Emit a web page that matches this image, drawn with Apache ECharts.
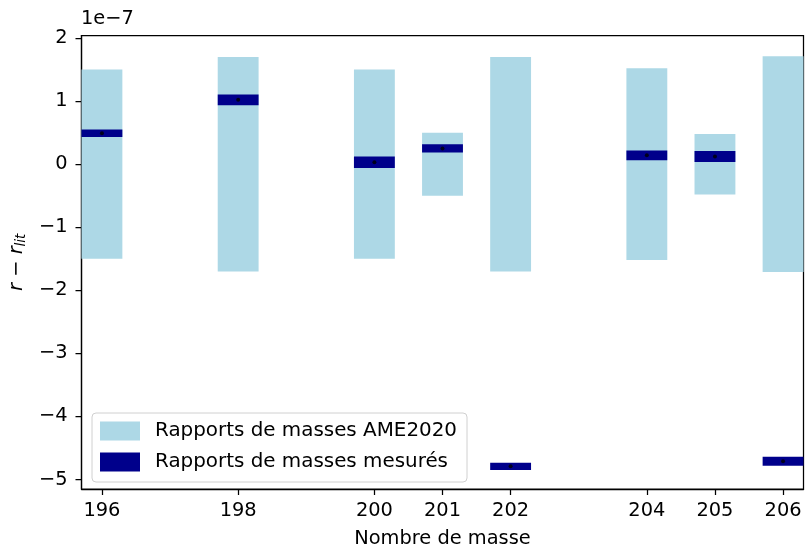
<!DOCTYPE html>
<html>
<head>
<meta charset="utf-8">
<script src="https://cdn.jsdelivr.net/npm/echarts@6/dist/echarts.min.js"></script>
<style>
  html, body { margin: 0; padding: 0; background: #fff; }
  #chart { width: 805px; height: 550px; }
</style>
</head>
<body>
<div id="chart"></div>
<script>
// Mass numbers of the isotopes
const masses = [196, 198, 200, 201, 202, 204, 205, 206];
// AME2020 uncertainty of r - r_lit (units of 1e-7), drawn as ±u around zero
const ameUncertainty = [1.5, 1.7, 1.5, 0.5, 1.7, 1.52, 0.48, 1.71];
// Measured r - r_lit (units of 1e-7) and its uncertainty
const measured = [0.49, 1.02, 0.03, 0.25, -4.79, 0.14, 0.12, -4.71];
const measuredErr = [0.06, 0.085, 0.09, 0.066, 0.058, 0.077, 0.087, 0.071];
// Tick labels
const xTicks = [196, 198, 200, 201, 202, 204, 205, 206];
const yTicks = [-5, -4, -3, -2, -1, 0, 1, 2];

const BAR_WIDTH = 0.6;
const FONT = 'DejaVu Sans';
const FS = 19.4;

const ameData = masses.map((m, i) => [m, -ameUncertainty[i], ameUncertainty[i]]);
const measData = masses.map((m, i) => [m, measured[i] - measuredErr[i], measured[i] + measuredErr[i]]);
const pointData = masses.map((m, i) => [m, measured[i]]);

function rangeBar(color) {
  return function (params, api) {
    const x = api.value(0);
    const lo = api.coord([x - BAR_WIDTH / 2, api.value(1)]);
    const hi = api.coord([x + BAR_WIDTH / 2, api.value(2)]);
    return {
      type: 'rect',
      shape: { x: lo[0], y: hi[1], width: hi[0] - lo[0], height: lo[1] - hi[1] },
      style: { fill: color }
    };
  };
}

const chart = echarts.init(document.getElementById('chart'), null, { renderer: 'canvas' });
chart.setOption({
  animation: false,
  backgroundColor: '#ffffff',
  textStyle: { fontFamily: FONT },
  grid: {
    left: 81.5, right: 1.5, top: 35.5, bottom: 61,
    outerBoundsMode: 'none', containLabel: false,
    show: true, borderColor: '#000', borderWidth: 1.25, backgroundColor: 'transparent'
  },
  graphic: [{
    type: 'text', left: 81, top: 9,
    style: { text: '1e\u22127', font: FS + 'px "DejaVu Sans"', fill: '#000' }
  }],
  legend: {
    left: 92, top: 413,
    orient: 'vertical',
    icon: 'rect',
    itemWidth: 40, itemHeight: 19, itemGap: 11,
    padding: [8, 10, 10, 8],
    borderColor: '#d0d0d0', borderWidth: 1, borderRadius: 4,
    backgroundColor: 'rgba(255,255,255,0.8)',
    textStyle: { fontSize: 19.9, lineHeight: 19, color: '#000', fontFamily: FONT, padding: [0, 0, 0, 10] },
    data: [
      { name: 'Rapports de masses AME2020', itemStyle: { color: '#add8e6' } },
      { name: 'Rapports de masses mesurés', itemStyle: { color: '#00008b' } }
    ]
  },
  xAxis: {
    type: 'value', min: 195.7, max: 206.3,
    name: 'Nombre de masse', nameLocation: 'middle', nameGap: 40,
    nameTextStyle: { fontSize: FS, color: '#000', fontFamily: FONT },
    axisLine: { show: true, onZero: false, lineStyle: { color: '#000', width: 1.25 } },
    axisTick: { show: true, length: 6, inside: false, customValues: xTicks, lineStyle: { color: '#000', width: 1.25 } },
    axisLabel: { customValues: xTicks, fontSize: FS, color: '#000', margin: 12, fontFamily: FONT },
    splitLine: { show: false }
  },
  yAxis: {
    type: 'value', min: -5.15, max: 2.04,
    name: '{i|r} \u2212 {i|r}{sub|lit}', nameLocation: 'middle', nameGap: 47, nameRotate: 90,
    nameTextStyle: {
      fontSize: FS, color: '#000', fontFamily: FONT,
      rich: {
        i: { fontSize: FS, fontStyle: 'italic', fontFamily: FONT, color: '#000' },
        sub: { fontSize: 13.5, fontStyle: 'italic', fontFamily: FONT, color: '#000', verticalAlign: 'bottom', padding: [9, 0, 0, 0] }
      }
    },
    axisLine: { show: true, onZero: false, lineStyle: { color: '#000', width: 1.25 } },
    axisTick: { show: true, length: 6, inside: false, customValues: yTicks, lineStyle: { color: '#000', width: 1.25 } },
    axisLabel: {
      customValues: yTicks, fontSize: FS, color: '#000', margin: 14, fontFamily: FONT,
      formatter: v => (v < 0 ? '\u2212' + Math.abs(v) : String(v))
    },
    splitLine: { show: false }
  },
  series: [
    {
      name: 'Rapports de masses AME2020', type: 'custom',
      renderItem: rangeBar('#add8e6'), data: ameData,
      encode: { x: 0, y: [1, 2] }, itemStyle: { color: '#add8e6' }, z: 1
    },
    {
      name: 'Rapports de masses mesurés', type: 'custom',
      renderItem: rangeBar('#00008b'), data: measData,
      encode: { x: 0, y: [1, 2] }, itemStyle: { color: '#00008b' }, z: 2
    },
    {
      name: 'points', type: 'scatter', data: pointData,
      symbol: 'circle', symbolSize: 4, itemStyle: { color: '#000' }, z: 3,
      silent: true
    }
  ]
});
</script>
</body>
</html>
